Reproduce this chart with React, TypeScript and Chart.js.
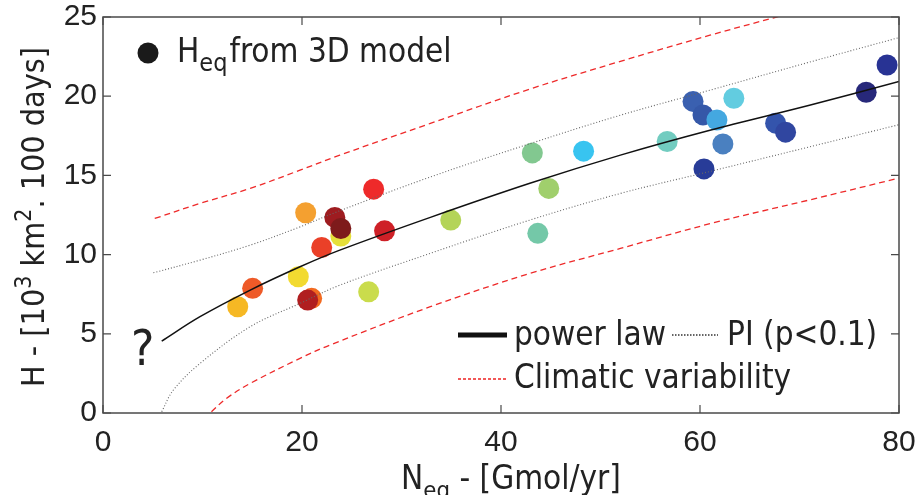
import React, { useEffect, useRef } from "react";
import { Chart, registerables } from "chart.js";

Chart.register(...registerables);

// ---------- data ----------
const xTickValues = [0, 20, 40, 60, 80];
const yTickValues = [0, 5, 10, 15, 20, 25];

// model points (N_eq, H_eq) with their colours
const pointN = [20.37, 23.9, 23.3, 23.9, 27.2, 28.3, 21.98, 19.63, 15.04, 13.54, 20.97, 20.57, 26.7, 34.95,
  43.15, 48.3, 44.8, 43.7, 56.7, 59.3, 60.3, 61.7, 63.4, 62.3, 60.4, 67.6, 68.6, 76.7, 78.8];
const pointH = [12.64, 11.17, 12.35, 11.65, 14.13, 11.5, 10.45, 8.6, 7.87, 6.71, 7.24, 7.13, 7.65, 12.18,
  16.42, 16.53, 14.18, 11.34, 17.14, 19.67, 18.82, 18.5, 19.87, 16.99, 15.41, 18.3, 17.73, 20.25, 21.97];
const pointColors = ["#F4A030", "#E6E03A", "#9E1C20", "#7E1B1B", "#EE2A2A", "#CE2027", "#EA4028", "#F2DA30",
  "#EE5A28", "#F6B824", "#F26A20", "#B01E20", "#CADC4C", "#B4D458",
  "#82C890", "#38C4F0", "#A0CF6C", "#74C8A8", "#72CCC0", "#3A60B0", "#3558A8", "#44A8E0", "#62CCE0",
  "#4A80C0", "#283C98", "#3454AC", "#3046A0", "#27287A", "#283394"];

// power law fit
const powerN = [5.9, 9.75, 14.8, 19.8, 23.8, 32.9, 42.9, 52, 61, 71, 80];
const powerH = [4.54, 6.08, 7.76, 9.23, 10.28, 12.35, 14.5, 16.28, 17.85, 19.43, 20.93];

// prediction interval (p<0.1)
const piUpperN = [5.06, 9.75, 14.8, 19.8, 23.1, 32.9, 42.9, 52, 61, 71, 80];
const piUpperH = [8.85, 9.65, 10.6, 11.75, 12.6, 14.9, 17.0, 18.8, 20.38, 22.15, 23.7];
const piLowerN = [5.9, 7.07, 9.75, 14.8, 19.8, 23.8, 32.9, 42.9, 52, 61, 71, 80];
const piLowerH = [0.08, 1.45, 3.13, 5.45, 6.92, 8.07, 10.08, 12.18, 13.86, 15.25, 16.8, 18.2];

// climatic variability
const climUpperN = [5.2, 9.75, 14.8, 19.8, 23.8, 32.9, 42.9, 52, 61, 67.7, 80];
const climUpperH = [12.28, 13.23, 14.18, 15.33, 16.28, 18.28, 20.45, 22.2, 23.85, 25, 27.1];
const climLowerN = [10.9, 12.4, 14.8, 19.8, 22.8, 32.9, 42.9, 52, 61, 71, 80];
const climLowerH = [0.08, 0.92, 1.87, 3.45, 4.29, 6.71, 8.81, 10.39, 11.95, 13.45, 14.83];

const legendTop = { main: "H", sub: "eq", rest: "from 3D model" };
const legendLabels = ["power law", "PI (p<0.1)", "Climatic variability"];
const xTitle = [{ t: "N" }, { t: "eq", sub: true }, { t: " - [Gmol/yr]" }];
const yTitle = [{ t: "H - [10" }, { t: "3", sup: true }, { t: " km" }, { t: "2", sup: true }, { t: ". 100 days]" }];
const questionMark = "?";

// ---------- helpers ----------
const FAM = "'DejaVu Sans Condensed', 'DejaVu Sans', sans-serif";
type Seg = { t: string; sub?: boolean; sup?: boolean };

function setFont(ctx: CanvasRenderingContext2D, size: number) {
  ctx.font = `${size}px ${FAM}`;
  try { (ctx as any).fontStretch = "condensed"; } catch (e) {}
}

function richWidth(ctx: CanvasRenderingContext2D, segs: Seg[], size: number) {
  let w = 0;
  for (const s of segs) {
    setFont(ctx, s.sub || s.sup ? size * 0.72 : size);
    w += ctx.measureText(s.t).width;
  }
  return w;
}

function drawRich(ctx: CanvasRenderingContext2D, segs: Seg[], x: number, y: number, size: number) {
  let cx = x;
  for (const s of segs) {
    const sz = s.sub || s.sup ? size * 0.72 : size;
    setFont(ctx, sz);
    const dy = s.sub ? size * 0.27 : s.sup ? -size * 0.42 : 0;
    ctx.fillText(s.t, cx, y + dy);
    cx += ctx.measureText(s.t).width;
  }
  return cx;
}

function pairs(xs: number[], ys: number[]) {
  return xs.map((x, i) => ({ x, y: ys[i] }));
}

const decorPlugin = {
  id: "decor",
  afterDatasetsDraw(chart: any) {
    const ctx: CanvasRenderingContext2D = chart.ctx;
    const { left, right, top, bottom } = chart.chartArea;
    const xs = chart.scales.x;
    const ys = chart.scales.y;
    ctx.save();
    // box
    ctx.strokeStyle = "#4a4a4a";
    ctx.lineWidth = 1.5;
    ctx.setLineDash([]);
    ctx.strokeRect(left, top, right - left, bottom - top);
    // inward ticks on all four sides
    ctx.lineWidth = 1.2;
    const tl = 8;
    ctx.beginPath();
    for (const v of xTickValues) {
      const px = xs.getPixelForValue(v);
      ctx.moveTo(px, bottom); ctx.lineTo(px, bottom - tl);
      ctx.moveTo(px, top); ctx.lineTo(px, top + tl);
    }
    for (const v of yTickValues) {
      const py = ys.getPixelForValue(v);
      ctx.moveTo(left, py); ctx.lineTo(left + tl, py);
      ctx.moveTo(right, py); ctx.lineTo(right - tl, py);
    }
    ctx.stroke();

    ctx.fillStyle = "#222";
    ctx.textBaseline = "alphabetic";
    ctx.textAlign = "left";

    // top-left legend
    ctx.beginPath();
    ctx.fillStyle = "#1a1a1a";
    ctx.arc(148, 53, 10.5, 0, Math.PI * 2);
    ctx.fill();
    ctx.fillStyle = "#222";
    let cx = drawRich(ctx, [{ t: legendTop.main }], 177, 62, 33);
    cx = drawRich(ctx, [{ t: legendTop.sub }], cx, 71, 25);
    drawRich(ctx, [{ t: legendTop.rest }], cx + 2, 62, 33);

    // bottom-right legend
    ctx.strokeStyle = "#111";
    ctx.lineWidth = 5;
    ctx.beginPath(); ctx.moveTo(458, 335); ctx.lineTo(507, 335); ctx.stroke();
    drawRich(ctx, [{ t: legendLabels[0] }], 514, 345, 33);
    ctx.strokeStyle = "#333";
    ctx.lineWidth = 1.3;
    ctx.setLineDash([1.5, 1.5]);
    ctx.beginPath(); ctx.moveTo(672, 335); ctx.lineTo(718, 335); ctx.stroke();
    drawRich(ctx, [{ t: legendLabels[1] }], 727, 345, 33);
    ctx.strokeStyle = "#ee2222";
    ctx.lineWidth = 1.6;
    ctx.setLineDash([3, 2]);
    ctx.beginPath(); ctx.moveTo(458, 379); ctx.lineTo(507, 379); ctx.stroke();
    ctx.setLineDash([]);
    drawRich(ctx, [{ t: legendLabels[2] }], 514, 388, 33);

    // question mark
    drawRich(ctx, [{ t: questionMark }], 131, 365, 49);

    // x axis title
    const xw = richWidth(ctx, xTitle, 33);
    drawRich(ctx, xTitle, 511 - xw / 2, 489, 33);

    // y axis title (rotated)
    const yw = richWidth(ctx, yTitle, 32);
    ctx.save();
    ctx.translate(44, 217);
    ctx.rotate(-Math.PI / 2);
    drawRich(ctx, yTitle, -yw / 2, 0, 32);
    ctx.restore();

    ctx.restore();
  },
};

export default function App() {
  const ref = useRef<HTMLCanvasElement | null>(null);
  useEffect(() => {
    if (!ref.current) return;
    const lineBase = {
      type: "line" as const,
      showLine: true,
      pointRadius: 0,
      fill: false,
      tension: 0.35,
    };
    const chart = new Chart(ref.current, {
      type: "scatter",
      data: {
        datasets: [
          { ...lineBase, label: "power law", data: pairs(powerN, powerH), borderColor: "#111", borderWidth: 1.5 },
          { ...lineBase, label: "PI upper", data: pairs(piUpperN, piUpperH), borderColor: "#666", borderWidth: 1.1, borderDash: [1, 2] },
          { ...lineBase, label: "PI lower", data: pairs(piLowerN, piLowerH), borderColor: "#666", borderWidth: 1.1, borderDash: [1, 2] },
          { ...lineBase, label: "Clim upper", data: pairs(climUpperN, climUpperH), borderColor: "#ee2a2a", borderWidth: 1.3, borderDash: [6, 4] },
          { ...lineBase, label: "Clim lower", data: pairs(climLowerN, climLowerH), borderColor: "#ee2a2a", borderWidth: 1.3, borderDash: [6, 4] },
          {
            type: "scatter",
            label: "Heq from 3D model",
            data: pairs(pointN, pointH),
            pointRadius: 10.5,
            pointHoverRadius: 10.5,
            backgroundColor: pointColors,
            borderWidth: 0,
          },
        ] as any,
      },
      options: {
        animation: false,
        responsive: false,
        events: [],
        layout: { padding: { top: 17, right: 18, left: 0, bottom: 0 } },
        plugins: { legend: { display: false }, tooltip: { enabled: false } },
        scales: {
          x: {
            type: "linear",
            min: 0,
            max: 80,
            afterBuildTicks: (s: any) => { s.ticks = xTickValues.map((v) => ({ value: v })); },
            afterFit: (s: any) => { s.height = 82; s.paddingLeft = 0; s.paddingRight = 0; },
            grid: { display: false, drawTicks: false },
            border: { display: false },
            ticks: { padding: 12, color: "#222", font: { family: "'Liberation Sans', Arial, sans-serif", size: 30 } },
          },
          y: {
            type: "linear",
            min: 0,
            max: 25,
            afterBuildTicks: (s: any) => { s.ticks = yTickValues.map((v) => ({ value: v })); },
            afterFit: (s: any) => { s.width = 103; s.paddingTop = 0; s.paddingBottom = 0; },
            grid: { display: false, drawTicks: false },
            border: { display: false },
            ticks: { padding: 6, color: "#222", font: { family: "'Liberation Sans', Arial, sans-serif", size: 30 } },
          },
        },
      },
      plugins: [decorPlugin],
    } as any);
    return () => chart.destroy();
  }, []);
  return (
    <div style={{ position: "fixed", left: 0, top: 0, width: 917, height: 495, background: "#fff" }}>
      <canvas ref={ref} width={917} height={495} style={{ width: 917, height: 495, display: "block" }} />
    </div>
  );
}
